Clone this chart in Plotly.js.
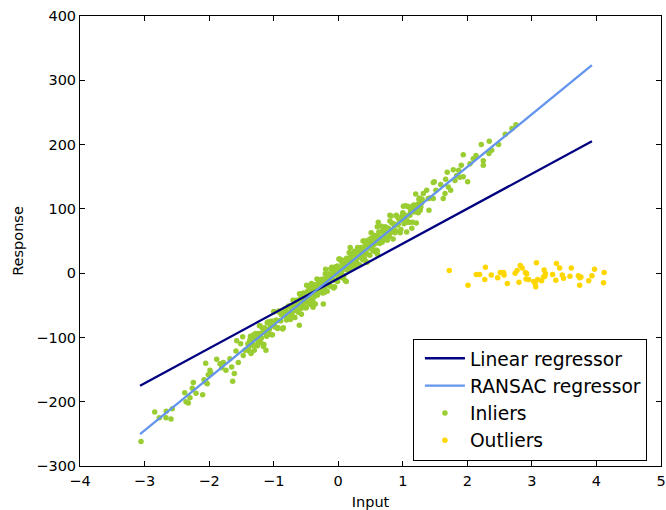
<!DOCTYPE html>
<html><head><meta charset="utf-8">
<script src="https://cdn.plot.ly/plotly-3.0.1.min.js"></script>
<style>html,body{margin:0;padding:0;background:#fff}</style>
</head><body><div id="chart" style="width:666px;height:510px"></div>
<script>
// Fitted lines
const lineX = [-3.07, 3.93];
const linearY = [-175, 205];
const ransacY = [-250.5, 323.5];

// Inliers
const inlierX = [
 -3.055,-2.843,-2.772,-2.663,-2.668,-2.59,-2.57,-2.378,-2.358,-2.323,-2.296,-2.261,-2.245,-2.203,-2.1,-2.079,-2.048,-2.053,-2.013,-2.028,-1.986,-1.971,-1.883,-1.831,-1.805,-1.78,-1.739,-1.677,-1.635,-1.65,-1.61,-1.584,-1.573,-1.511,-1.471,-1.444,-1.548,
 -1.119,-0.603,-0.231,0.605,1.06,0.80,0.62,-1.48,
 2.753,2.691,2.588,2.485,2.34,2.377,2.335,2.216,2.247,2.247,2.134,2.092,2.041,1.937,1.906,1.866,1.782,1.689,2.005,1.886,1.937,1.835,1.809,1.664,1.587,1.488,1.514,1.705,1.742,1.654,1.37,1.318,1.472,1.627,1.395,1.406,1.421,1.472,
 -1.40,-1.38,-1.36,-1.34,-1.32,-1.30,-1.28,-1.26,-1.24,-1.22,-1.20,-1.18,-1.16,-1.14,-1.12,-1.10,-1.08,-1.06,-1.04,-1.02,-1.00,-0.98,-0.96,-0.94,-0.92,-0.90,-0.88,-0.86,-0.84,-0.82,-0.80,
 -1.39,-1.37,-1.35,-1.33,-1.31,-1.29,-1.27,-1.25,-1.23,-1.21,-1.19,-1.17,-1.15,-1.13,-1.11,-1.09,-1.07,-1.05,-1.03,-1.01,-0.99,-0.97,-0.95,-0.93,-0.91,-0.89,-0.87,-0.85,-0.83,-0.81,
 -0.79,-0.78,-0.77,-0.76,-0.75,-0.74,-0.73,-0.72,-0.71,-0.70,-0.69,-0.68,-0.67,-0.66,-0.65,-0.64,-0.63,-0.62,-0.61,-0.60,
 -0.59,-0.58,-0.57,-0.56,-0.55,-0.54,-0.53,-0.52,-0.51,-0.50,-0.49,-0.48,-0.47,-0.46,-0.45,-0.44,-0.43,-0.42,-0.41,-0.40,
 -0.39,-0.38,-0.37,-0.36,-0.35,-0.34,-0.33,-0.32,-0.31,-0.30,-0.29,-0.28,-0.27,-0.26,-0.25,-0.24,-0.23,-0.22,-0.21,-0.20,
 -0.19,-0.18,-0.17,-0.16,-0.15,-0.14,-0.13,-0.12,-0.11,-0.10,-0.09,-0.08,-0.07,-0.06,-0.05,-0.04,-0.03,-0.02,-0.01,0.00,
 0.01,0.02,0.03,0.04,0.05,0.06,0.07,0.08,0.09,0.10,0.11,0.12,0.13,0.14,0.15,0.16,0.17,0.18,0.19,0.20,
 0.21,0.22,0.23,0.24,0.25,0.26,0.27,0.28,0.29,0.30,0.31,0.32,0.33,0.34,0.35,0.36,0.37,0.38,0.39,0.40,
 0.41,0.42,0.43,0.44,0.45,0.46,0.47,0.48,0.49,0.50,0.51,0.52,0.53,0.54,0.55,0.56,0.57,0.58,0.59,0.60,
 0.61,0.62,0.63,0.64,0.65,0.66,0.67,0.68,0.69,0.70,0.71,0.72,0.73,0.74,0.75,0.76,0.77,0.78,0.79,0.80,
 -0.595,-0.575,-0.555,-0.535,-0.515,-0.495,-0.475,-0.455,-0.435,-0.415,-0.395,-0.375,-0.355,-0.335,-0.315,-0.295,-0.275,-0.255,-0.235,-0.215,
 -0.195,-0.175,-0.155,-0.135,-0.115,-0.095,-0.075,-0.055,-0.035,-0.015,0.005,0.025,0.045,0.065,0.085,0.105,0.125,0.145,0.165,0.185,
 0.205,0.225,0.245,0.265,0.285,0.305,0.325,0.345,0.365,0.385,0.405,0.425,0.445,0.465,0.485,0.505,0.525,0.545,0.565,0.585,0.605,
 0.82,0.84,0.86,0.88,0.90,0.92,0.94,0.96,0.98,1.00,1.02,1.04,1.06,1.08,1.10,1.12,1.14,1.16,1.18,1.20,1.22,1.24,1.26,1.28,1.30,
 0.81,0.83,0.85,0.87,0.89,0.91,0.93,0.95,0.97,0.99,1.01,1.03,1.05,1.07,1.09,1.11,1.13,1.15,1.17,1.19,1.21,1.23,1.25,1.27,1.29
];
const inlierY = [
 -262,-216,-225,-215,-225,-227,-211,-186,-200,-202,-194,-179,-170,-187,-189,-166,-170,-140,-158,-172,-151,-156,-134,-141,-147,-139,-151,-133,-168,-146,-156,-121,-105,-110,-128,-120,-139,
 -120,-81,-48,35,64,90,79,-99,
 231,225,216,200,205,191,186,200,175,168,183,178,170,184,168,160,161,157,142,149,150,152,144,146,138,142,129,134,129,124,129,124,116,116,116,98,117,141,
 -110,-121,-98,-112,-100,-120,-94,-101,-107,-82,-108,-93,-114,-85,-93,-77,-95,-86,-75,-96,-60,-83,-73,-86,-59,-74,-65,-87,-66,-55,-73,
 -115,-104,-125,-105,-96,-112,-102,-113,-94,-82,-101,-86,-111,-90,-98,-76,-88,-81,-96,-75,-60,-84,-74,-85,-61,-74,-64,-85,-58,-65,
 -70,-61,-51,-64,-52,-72,-59,-53,-66,-42,-58,-48,-69,-50,-42,-58,-50,-61,-43,-32,
 -51,-38,-64,-43,-52,-31,-43,-38,-54,-33,-19,-43,-35,-47,-23,-37,-28,-49,-24,-32,
 -53,-25,-18,-36,-26,-31,-9,-34,-16,-23,-29,-20,-10,-23,-12,-31,-18,-12,-25,-1,
 -17,-7,-28,-9,-1,-17,-9,-20,-2,9,-10,3,-23,-2,-11,10,-2,3,-13,8,
 22,-2,6,-6,18,4,13,-8,17,9,-12,16,23,5,15,10,32,7,25,18,
 12,21,31,18,30,10,23,29,16,40,24,34,13,32,40,24,32,21,39,50,
 31,44,18,39,30,51,39,44,28,49,63,39,47,35,59,45,54,33,58,50,
 29,57,64,46,56,51,73,48,66,59,53,62,72,59,70,51,64,70,57,81,
 -44,-55,-32,-46,-34,-54,-28,-35,-41,-16,-42,-27,-48,-18,-27,-11,-29,-20,-9,-30,
 6,-17,-7,-20,7,-8,1,-21,0,11,-7,22,0,20,-4,13,-13,22,12,40,
 22,10,34,20,31,12,38,30,25,50,23,39,17,47,39,54,37,46,56,36,72,
 89,66,77,63,90,75,84,63,83,94,77,105,83,104,79,96,70,105,95,123,105,94,117,103,115,
 63,78,53,74,66,88,76,83,68,89,104,80,90,79,103,90,100,79,106,99,78,107,115,98,109
];

// Outliers
const outlierX = [1.72,2.01,2.14,2.19,2.28,2.27,2.37,2.47,2.51,2.56,2.57,2.62,2.74,2.77,2.82,2.85,2.90,2.92,2.80,2.91,2.95,3.03,3.05,3.06,3.07,3.09,3.15,3.18,3.19,3.21,3.20,3.32,3.37,3.38,3.43,3.47,3.49,3.59,3.61,3.72,3.74,3.74,3.76,3.88,3.93,3.97,4.12,4.11];
const outlierY = [4,-19,-2,-2,9,-10,-3,-7,1,1,-3,-16,0,4,12,8,1,-1,-14,-9,-10,-13,-16,-21,16,-10,-12,-6,5,-1,-5,-2,-11,15,8,-3,-8,-5,8,-4,-19,-7,-6,-12,-4,6,1,-15];

const xTicks = [-4,-3,-2,-1,0,1,2,3,4,5];
const yTicks = [-300,-200,-100,0,100,200,300,400];

const FONT = 'DejaVu Sans, Bitstream Vera Sans, sans-serif';

const traces = [
  {x: inlierX, y: inlierY, type: 'scatter', mode: 'markers', name: 'Inliers',
   marker: {color: '#9acd32', size: 5.5, line: {width: 0}}, legendrank: 3},
  {x: outlierX, y: outlierY, type: 'scatter', mode: 'markers', name: 'Outliers',
   marker: {color: '#ffd700', size: 5.5, line: {width: 0}}, legendrank: 4},
  {x: lineX, y: linearY, type: 'scatter', mode: 'lines', name: 'Linear regressor',
   line: {color: '#000080', width: 2.3}, legendrank: 1},
  {x: lineX, y: ransacY, type: 'scatter', mode: 'lines', name: 'RANSAC regressor',
   line: {color: '#6495ed', width: 2.3}, legendrank: 2}
];

const axisCommon = {
  showline: true, linecolor: '#000', linewidth: 1, mirror: 'ticks',
  ticks: 'inside', ticklen: 5, tickwidth: 1, tickcolor: '#000',
  showgrid: false, zeroline: false,
  tickfont: {family: FONT, size: 14.5, color: '#000'}
};

const layout = {
  width: 666, height: 510,
  margin: {l: 80, r: 5, t: 16, b: 44, pad: 0},
  paper_bgcolor: '#fff', plot_bgcolor: '#fff',
  font: {family: FONT, color: '#000'},
  xaxis: Object.assign({}, axisCommon, {
    range: [-4, 5], tickvals: xTicks, ticktext: xTicks.map(v => v < 0 ? '\u2212' + Math.abs(v) : String(v)),
    ticklabelstandoff: 2,
    title: {text: 'Input', font: {family: FONT, size: 14.5, color: '#000'}, standoff: 10}
  }),
  yaxis: Object.assign({}, axisCommon, {
    range: [-300, 400], tickvals: yTicks, ticktext: yTicks.map(v => v < 0 ? '\u2212' + Math.abs(v) : String(v)),
    title: {text: 'Response', font: {family: FONT, size: 14.5, color: '#000'}, standoff: 9}
  }),
  showlegend: true,
  legend: {
    x: 0.573, y: 0.012, xanchor: 'left', yanchor: 'bottom',
    bgcolor: '#fff', bordercolor: '#000', borderwidth: 1,
    font: {family: FONT, size: 18.7, color: '#000'},
    itemwidth: 40, indentation: 6, tracegroupgap: 0
  }
};

Plotly.newPlot('chart', traces, layout, {displayModeBar: false, staticPlot: true});
</script>
</body></html>
